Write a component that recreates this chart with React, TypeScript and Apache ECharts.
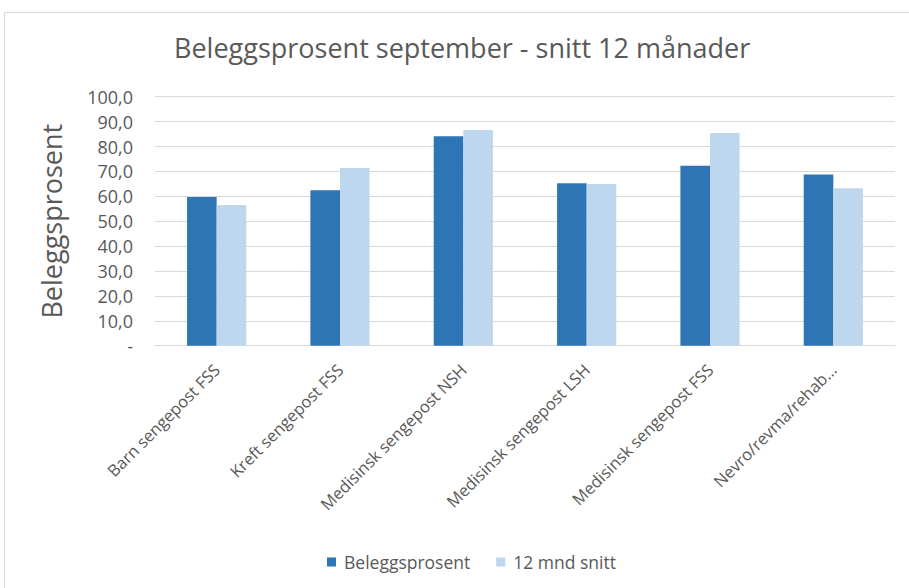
import React, { useEffect, useRef } from "react";
import * as echarts from "echarts";

const categories = [
  "Barn sengepost FSS",
  "Kreft sengepost FSS",
  "Medisinsk sengepost NSH",
  "Medisinsk sengepost LSH",
  "Medisinsk sengepost FSS",
  "Nevro/revma/rehab...",
];
const beleggsprosent = [59.7, 62.4, 84.1, 65.2, 72.3, 68.8];
const snitt12 = [56.5, 71.4, 86.6, 64.9, 85.4, 63.2];
const seriesNames = ["Beleggsprosent", "12 mnd snitt"];
const titleText = "Beleggsprosent september - snitt 12 månader";
const yAxisName = "Beleggsprosent";

const FONT = "'Open Sans', Lato, sans-serif";
const TXT = "#595959";

export default function App() {
  const ref = useRef<HTMLDivElement>(null);
  useEffect(() => {
    if (!ref.current) return;
    const chart = echarts.init(ref.current, null, { renderer: "svg" });
    chart.setOption({
      animation: false,
      backgroundColor: "#ffffff",
      textStyle: { fontFamily: FONT },
      graphic: [
        {
          type: "rect",
          shape: { x: 4.5, y: 12.5, width: 1200, height: 1200 },
          style: { fill: "none", stroke: "#d9d9d9", lineWidth: 1 },
          silent: true,
        },
      ],
      title: {
        text: titleText,
        left: 169,
        top: 29,
        textStyle: { fontFamily: FONT, fontSize: 27, fontWeight: "normal", color: TXT },
      },
      legend: {
        bottom: 12,
        left: 322,
        itemWidth: 9,
        itemHeight: 9,
        itemGap: 26,
        icon: "rect",
        textStyle: { fontFamily: FONT, fontSize: 17.5, color: TXT, padding: [0, 0, 0, 3] },
        data: seriesNames,
      },
      grid: { left: 155, right: 14, top: 96.7, bottom: 242.3, containLabel: false },
      xAxis: {
        type: "category",
        data: categories,
        axisLine: { lineStyle: { color: "#d9d9d9" } },
        axisTick: { show: false },
        axisLabel: {
          rotate: 45,
          interval: 0,
          fontFamily: FONT,
          fontSize: 16.5,
          color: TXT,
          margin: 21,
        },
      },
      yAxis: {
        type: "value",
        min: 0,
        max: 100,
        interval: 10,
        name: yAxisName,
        nameLocation: "middle",
        nameGap: 90,
        nameTextStyle: { fontFamily: FONT, fontSize: 27, color: TXT },
        axisLine: { show: false },
        axisTick: { show: false },
        splitLine: { lineStyle: { color: "#d9d9d9", width: 1 } },
        axisLabel: {
          fontFamily: FONT,
          fontSize: 18,
          color: TXT,
          margin: 22,
          formatter: (v: number) => (v === 0 ? "-" : v.toFixed(1).replace(".", ",")),
        },
      },
      series: [
        {
          name: seriesNames[0],
          type: "bar",
          data: beleggsprosent,
          barGap: "0%",
          barCategoryGap: "52%",
          itemStyle: { color: "#2E75B6" },
        },
        {
          name: seriesNames[1],
          type: "bar",
          data: snitt12,
          barGap: "0%",
          barCategoryGap: "52%",
          itemStyle: { color: "#BDD7EE" },
        },
      ],
    });
    return () => chart.dispose();
  }, []);
  return (
    <div
      ref={ref}
      style={{ position: "absolute", left: 0, top: 0, width: 909, height: 588 }}
    />
  );
}
